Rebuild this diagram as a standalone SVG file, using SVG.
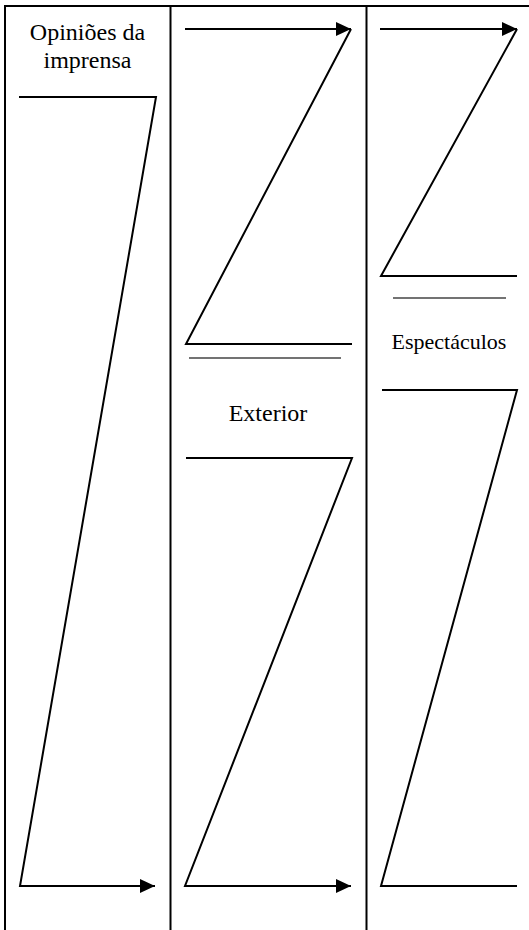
<svg xmlns="http://www.w3.org/2000/svg" width="529" height="930" viewBox="0 0 529 930">
  <style>
    .grid { stroke: #000; stroke-width: 2; fill: none; }
    .zl { stroke: #000; stroke-width: 2; fill: none; stroke-linejoin: miter; }
    .ul { stroke: #444; stroke-width: 1.5; fill: none; }
    .lbl { font-family: 'Liberation Serif', 'DejaVu Serif', serif; fill: #000; text-anchor: middle; }
  </style>
  <defs>
    <marker id="ah" markerUnits="userSpaceOnUse" markerWidth="15" markerHeight="14" refX="15" refY="7" orient="auto">
      <path d="M0,0 L15,7 L0,14 Z" fill="#000"/>
    </marker>
  </defs>
  <rect width="529" height="930" fill="#fff"/>
  <g id="table">
    <line class="grid" x1="5" y1="6" x2="529" y2="6"/>
    <line class="grid" x1="5" y1="5" x2="5" y2="930"/>
    <line class="grid" x1="170.5" y1="6" x2="170.5" y2="930"/>
    <line class="grid" x1="366.5" y1="6" x2="366.5" y2="930"/>
  </g>
  <g id="col1-label">
    <text class="lbl" x="87.5" y="40" font-size="24">Opiniões da</text>
    <text class="lbl" x="87.5" y="67.5" font-size="24">imprensa</text>
  </g>
  <g id="connectors">
    <g id="col1-z">
      <polyline class="zl" points="19,97 156,97 20,886 155,886" marker-end="url(#ah)"/>
    </g>
    <g id="col2-top-z">
      <line class="zl" x1="185" y1="29" x2="351" y2="29" marker-end="url(#ah)"/>
      <polyline class="zl" points="351,29 186,344 352,344"/>
      <line class="ul" x1="189" y1="358" x2="341" y2="358"/>
    </g>
    <g id="col2-bottom-z">
      <polyline class="zl" points="186,458 352,458 185,886 351,886" marker-end="url(#ah)"/>
    </g>
    <g id="col3-top-z">
      <line class="zl" x1="380" y1="29" x2="517" y2="29" marker-end="url(#ah)"/>
      <polyline class="zl" points="517,29 381,276 517,276"/>
      <line class="ul" x1="393" y1="298" x2="506" y2="298"/>
    </g>
    <g id="col3-bottom-z">
      <polyline class="zl" points="382,390 517,390 381,886 517,886"/>
    </g>
  </g>
  <g id="exterior-label">
    <text class="lbl" x="268" y="421" font-size="24">Exterior</text>
  </g>
  <g id="espectaculos-label">
    <text class="lbl" x="449" y="349" font-size="22">Espectáculos</text>
  </g>
</svg>
